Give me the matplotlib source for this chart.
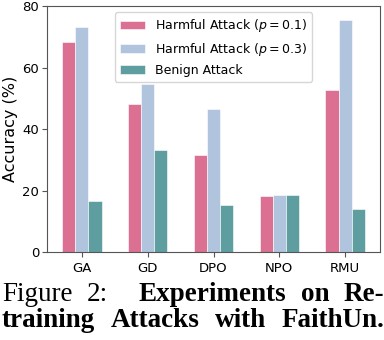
import numpy as np
import matplotlib
matplotlib.use("Agg")
import matplotlib.pyplot as plt

# =============================================================================
# Data
# =============================================================================
methods = ["GA", "GD", "DPO", "NPO", "RMU"]
harmful_p01 = [68.4, 48.1, 31.5, 18.3, 52.7]
harmful_p03 = [73.3, 54.7, 46.5, 18.6, 75.6]
benign = [16.6, 33.2, 15.3, 18.5, 14.2]

series_labels = [
    r"Harmful Attack ($p=0.1$)",
    r"Harmful Attack ($p=0.3$)",
    "Benign Attack",
]
series_colors = ["palevioletred", "lightsteelblue", "cadetblue"]

# =============================================================================
# Plot
# =============================================================================
fig = plt.figure(figsize=(3.84, 3.4), dpi=100)
ax = fig.add_axes([0.1224, 0.258, 0.8672, 0.724])

x = np.arange(len(methods))
width = 0.2
for i, (vals, lab, col) in enumerate(zip([harmful_p01, harmful_p03, benign],
                                         series_labels, series_colors)):
    ax.bar(x + (i - 1) * width, vals, width, color=col, label=lab,
           edgecolor="white", linewidth=0.4)

ax.set_xticks(x)
ax.set_xticklabels(methods, fontsize=9.5)
ax.set_ylim(0, 80)
ax.set_yticks([0, 20, 40, 60, 80])
ax.tick_params(axis="y", labelsize=9.5, pad=2)
ax.set_ylabel("Accuracy (%)", fontsize=11.5, labelpad=3)
for sp in ax.spines.values():
    sp.set_color("#555555")
ax.tick_params(colors="#555555", labelcolor="black")
ax.legend(loc="upper center", fontsize=9.0, handlelength=2.0)

# =============================================================================
# Caption (justified, like the paper layout)
# =============================================================================
# each line: words (text, weight), left px, right px, baseline px, gap weights
cap_lines = [
    ([("Figure", "normal"), ("2:", "normal"), ("Experiments", "bold"),
      ("on", "bold"), ("Re-", "bold")], 2, 384, 300.7, [1, 2.2, 1, 1]),
    ([("training", "bold"), ("Attacks", "bold"), ("with", "bold"),
      ("FaithUn.", "bold")], 2, 384, 326.7, [1, 1, 1]),
]
W, H = 384, 340
fig.canvas.draw()
renderer = fig.canvas.get_renderer()
for words, left, right, base, weights in cap_lines:
    texts = [fig.text(0, 1 - base / H, w, fontsize=19.5, fontweight=fw,
                      family="Liberation Serif", ha="left", va="baseline")
             for w, fw in words]
    widths = [t.get_window_extent(renderer).width for t in texts]
    unit = (right - left - sum(widths)) / sum(weights)
    pos = left
    for k, (t, wd) in enumerate(zip(texts, widths)):
        t.set_x(pos / W)
        if k < len(weights):
            pos += wd + unit * weights[k]

fig.savefig("out.png", dpi=100)
